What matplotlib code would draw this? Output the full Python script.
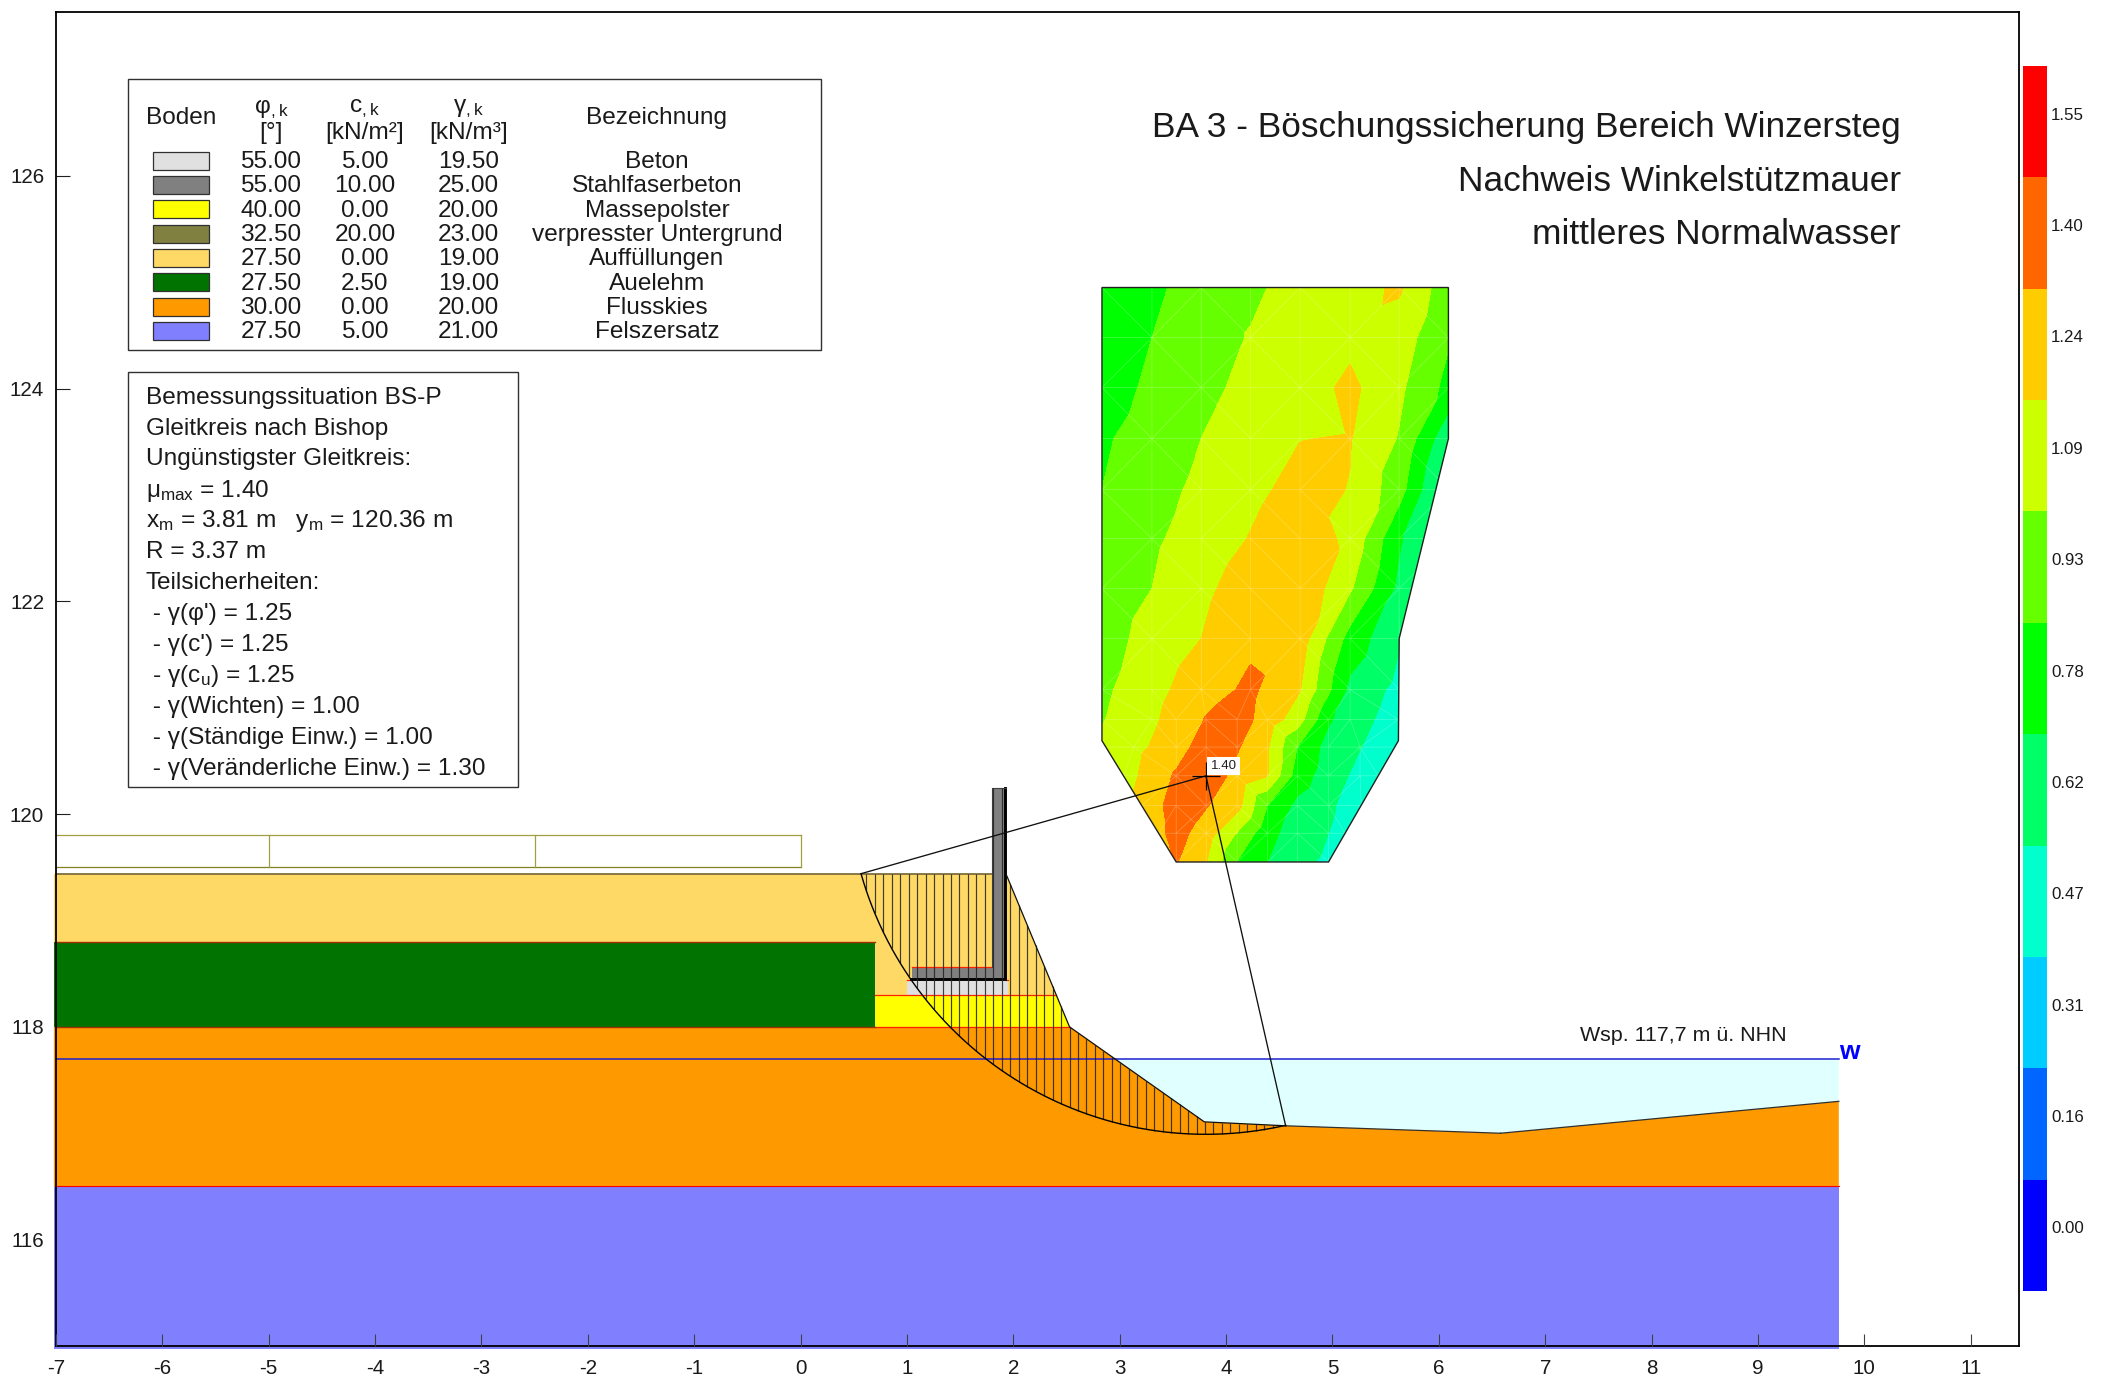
import numpy as np
import matplotlib
matplotlib.use("Agg")
import matplotlib.pyplot as plt
from matplotlib.patches import Polygon, Rectangle
from matplotlib.collections import LineCollection
from matplotlib.colors import ListedColormap, BoundaryNorm
from matplotlib.tri import Triangulation

plt.rcParams['font.family'] = ['Liberation Sans', 'DejaVu Sans']
plt.rcParams['mathtext.default'] = 'regular'
plt.rcParams['axes.unicode_minus'] = False

# ---------- data ----------
x_ticks = list(range(-7, 12))
y_ticks = [116, 118, 120, 122, 124, 126]

title_lines = ["BA 3 - Böschungssicherung Bereich Winzersteg",
               "Nachweis Winkelstützmauer", "mittleres Normalwasser"]

soil_names = ["Beton", "Stahlfaserbeton", "Massepolster", "verpresster Untergrund",
              "Auffüllungen", "Auelehm", "Flusskies", "Felszersatz"]
soil_phi = ["55.00", "55.00", "40.00", "32.50", "27.50", "27.50", "30.00", "27.50"]
soil_c = ["5.00", "10.00", "0.00", "20.00", "0.00", "2.50", "0.00", "5.00"]
soil_gamma = ["19.50", "25.00", "20.00", "23.00", "19.00", "19.00", "20.00", "21.00"]
soil_colors = ["#E0E0E0", "#808080", "#FFFF00", "#808040", "#FFD966", "#007300", "#FF9900", "#8080FF"]

info_lines = ["Bemessungssituation BS-P", "Gleitkreis nach Bishop", "Ungünstigster Gleitkreis:",
              "μ$_{max}$ = 1.40", "x$_{m}$ = 3.81 m   y$_{m}$ = 120.36 m", "R = 3.37 m", "Teilsicherheiten:",
              " - γ(φ') = 1.25", " - γ(c') = 1.25", " - γ(c$_{u}$) = 1.25", " - γ(Wichten) = 1.00",
              " - γ(Ständige Einw.) = 1.00", " - γ(Veränderliche Einw.) = 1.30"]

# section geometry [m, m ü. NHN]
felszersatz = [(-7.02, 114.97), (9.76, 114.97), (9.76, 116.5), (-7.02, 116.5)]
flusskies = [(-7.02, 116.5), (9.76, 116.5), (9.76, 117.30), (6.58, 117.0), (4.56, 117.07),
             (3.795, 117.107), (2.528, 118.0), (-7.02, 118.0)]
auffuellung = [(-7.02, 118.0), (2.528, 118.0), (1.934, 119.43), (1.80, 119.44), (-7.02, 119.44)]
auelehm = [(-7.02, 118.0), (0.70, 118.0), (0.70, 118.80), (-7.02, 118.80)]
massepolster = [(0.70, 118.0), (2.528, 118.0), (2.403, 118.30), (0.70, 118.30)]
beton = [(1.00, 118.30), (1.95, 118.30), (1.95, 118.44), (1.00, 118.44)]
wall = [(1.05, 118.44), (1.934, 118.44), (1.934, 120.25), (1.80, 120.25), (1.80, 118.56), (1.05, 118.56)]
water = [(2.954, 117.70), (9.76, 117.70), (9.76, 117.30), (6.58, 117.0), (4.56, 117.07), (3.795, 117.107)]
water_level = 117.70
load_x = [-7.0, -5.0, -2.5, 0.0]
load_y = [119.50, 119.80]
surface_x = [0.56, 1.80, 1.8001, 1.934, 1.9341, 2.528, 3.795, 4.56]
surface_y = [119.44, 119.44, 120.25, 120.25, 119.43, 118.0, 117.107, 117.07]

xm, ym, radius = 3.81, 120.36, 3.37
slip_end_left = 0.568
slip_end_right = 4.56
slice_x0, slice_dx = 2.528, 0.0796

# colour bar
band_labels = ["0.00", "0.16", "0.31", "0.47", "0.62", "0.78", "0.93", "1.09", "1.24", "1.40", "1.55"]
band_colors = ["#0000FF", "#0066FF", "#00CCFF", "#00FFCC", "#00FF66", "#00FF00",
               "#66FF00", "#CCFF00", "#FFCC00", "#FF6600", "#FF0000"]
band_edges = [-0.08, 0.08, 0.235, 0.39, 0.545, 0.70, 0.855, 1.01, 1.165, 1.32, 1.475, 1.63]

# safety factor field: nodes per row
field_outline = [(2.833, 124.95), (6.09, 124.95), (6.09, 123.53), (5.627, 121.65), (5.62, 120.69),
                 (4.963, 119.55), (3.531, 119.55), (2.833, 120.69)]
coarse8 = [2.833, 3.303, 3.766, 4.229, 4.696, 5.166, 5.627, 6.09]
coarse7 = [2.833, 3.303, 3.766, 4.229, 4.696, 5.166, 5.627]
row_y = [124.95, 124.48, 124.01, 123.53, 123.05, 122.59, 122.12, 121.65, 121.17,
         120.89, 120.63, 120.36, 120.08, 119.95, 119.82, 119.55]
row_x = [coarse8, coarse8, coarse8, coarse8, coarse8, coarse8, coarse8, coarse7, coarse7,
         [2.833, 3.303, 3.531, 3.813, 4.104, 4.389, 4.671, 4.963, 5.166, 5.62],
         [2.833, 3.13, 3.531, 3.813, 4.104, 4.389, 4.671, 4.963, 5.26, 5.62],
         [3.039, 3.531, 3.813, 4.104, 4.389, 4.671, 4.963, 5.26, 5.43],
         [3.202, 3.531, 3.813, 4.104, 4.389, 4.671, 4.963, 5.27],
         [3.67],
         [3.366, 3.531, 3.813, 4.104, 4.389, 4.671, 4.963, 5.119],
         [3.531, 3.813, 4.104, 4.389, 4.671, 4.963]]
row_mu = [[.76, .82, .93, .975, 1.08, 1.115, 1.185, .916],
          [.75, .855, .93, 1.02, 1.08, 1.125, 1.09, .87],
          [.78, .885, .97, 1.05, 1.09, 1.20, 1.04, .81],
          [.835, .92, 1.01, 1.09, 1.162, 1.172, 1.0, .58],
          [.855, .96, 1.04, 1.13, 1.21, 1.16, .92, .44],
          [.90, .985, 1.08, 1.172, 1.26, 1.13, .72, .45],
          [.93, 1.01, 1.13, 1.24, 1.29, 1.03, .66, .40],
          [.95, 1.06, 1.165, 1.29, 1.243, .795, .56],
          [.978, 1.115, 1.25, 1.35, 1.17, .66, .50],
          [1.0, 1.14, 1.22, 1.33, 1.40, 1.25, 1.09, .72, .62, .47],
          [1.05, 1.12, 1.25, 1.40, 1.335, 1.18, .85, .64, .55, .43],
          [1.10, 1.34, 1.40, 1.28, 1.17, .78, .62, .50, .42],
          [1.22, 1.38, 1.33, 1.22, .85, .66, .57, .46],
          [1.35],
          [1.28, 1.38, 1.24, 1.0, .75, .62, .545, .50],
          [1.33, 1.17, .85, .70, .58, .52]]

# ---------- layout (pixels of the 2123 x 1382 canvas) ----------
W, H = 2123, 1382
fig = plt.figure(figsize=(W / 100, H / 100), dpi=100)
def frame(l, t, r, b):
    return [l / W, 1 - b / H, (r - l) / W, (b - t) / H]
def fx(p): return p / W
def fy(p): return 1 - p / H

ax = fig.add_axes(frame(56, 12, 2019, 1346))
ax.set_xlim(-7, 11.454)
ax.set_ylim(115.0, 127.54)
ax.set_xticks(x_ticks)
ax.set_yticks(y_ticks)
ax.tick_params(axis='x', direction='in', length=8.6, width=0.8, color='#404040', labelsize=14.8, pad=9.5, labelcolor='#1a1a1a')
ax.tick_params(axis='y', direction='in', length=10, width=0.8, color='#202020', labelsize=14.8, pad=8.5, labelcolor='#1a1a1a')
for s in ax.spines.values():
    s.set_linewidth(1.3)
    s.set_zorder(20)
ax.xaxis.set_zorder(21)
for t in ax.xaxis.get_major_ticks() + ax.yaxis.get_major_ticks():
    t.tick1line.set_zorder(21)

def layer(points, color, edge=None, z=2, lw=0.8):
    ax.add_patch(Polygon(points, closed=True, facecolor=color, edgecolor=edge if edge else color,
                         lw=lw, zorder=z, clip_on=False))

col = dict(zip(soil_names, soil_colors))
layer(felszersatz, col["Felszersatz"], z=2, lw=0)
layer(flusskies, col["Flusskies"], z=2.1, lw=0)
layer(auffuellung, col["Auffüllungen"], z=2.2, lw=0)
layer(auelehm, col["Auelehm"], z=2.3, lw=0)
layer(massepolster, col["Massepolster"], z=2.4, lw=0)
layer(beton, col["Beton"], z=2.5, lw=0)
layer(water, "#E0FFFF", z=2.05, lw=0)

red = '#FF2000'
ax.plot([-7.02, 9.76], [116.5, 116.5], color='#FF0000', lw=0.8, zorder=3)
ax.plot([0.70, 2.528], [118.0, 118.0], color=red, lw=0.9, zorder=3)
ax.plot([-7.02, 0.70], [118.0, 118.0], color='#A03000', lw=1.0, zorder=3)
ax.plot([-7.02, 0.70], [118.80, 118.80], color='#A03000', lw=1.0, zorder=3)
ax.plot([0.70, 2.403], [118.30, 118.30], color=red, lw=0.9, zorder=3)
ax.plot([-7.02, 1.80], [119.44, 119.44], color='#665a30', lw=1.1, zorder=3)
ax.plot([-7.02, 9.76], [water_level, water_level], color='#2020D0', lw=1.1, zorder=3.2)

# load strips
ax.plot([load_x[0], load_x[-1]], [load_y[1], load_y[1]], color='#A0A040', lw=0.9, zorder=3)
ax.plot([load_x[0], load_x[-1]], [load_y[0], load_y[0]], color='#808020', lw=0.9, zorder=3)
for xv in load_x[1:]:
    ax.plot([xv, xv], load_y, color='#A0A040', lw=0.9, zorder=3)

# wall
layer(wall, col["Stahlfaserbeton"], z=4, lw=0)
ax.plot([1.05, 1.80], [118.56, 118.56], color=red, lw=0.9, zorder=4.2)
ax.plot([1.0, 1.05], [118.44, 118.44], color=red, lw=0.9, zorder=4.2)
ax.plot([1.934, 1.95], [118.44, 118.44], color=red, lw=0.9, zorder=4.2)
ax.plot([1.04, 1.92, 1.92], [118.45, 118.45, 120.25], color='black', lw=2.1, zorder=5, solid_joinstyle='miter')
ax.plot([1.80, 1.80, 1.934], [118.56, 120.25, 120.25], color='#404040', lw=0.8, zorder=5)

# slip circle and slices
arc_x = np.linspace(slip_end_left, slip_end_right, 300)
arc_y = ym - np.sqrt(radius ** 2 - (arc_x - xm) ** 2)
ax.plot(arc_x, arc_y, color='black', lw=1.0, zorder=6)
k = np.arange(-25, 27)
sx = slice_x0 + k * slice_dx
sx = sx[(sx > slip_end_left + 0.02) & (sx < slip_end_right)]
top = np.interp(sx, surface_x, surface_y)
bot = ym - np.sqrt(radius ** 2 - (sx - xm) ** 2)
ax.add_collection(LineCollection([[(a, b), (a, c)] for a, b, c in zip(sx, bot, top)],
                                 colors='#202020', linewidths=0.85, alpha=0.85, zorder=5.5))
ax.plot(surface_x[4:], surface_y[4:], color='#101010', lw=0.9, zorder=6)
ax.plot([6.58, 9.76], [117.0, 117.30], color='#303030', lw=0.9, zorder=6)
ax.plot([4.56, 6.58], [117.07, 117.0], color='#303030', lw=0.9, zorder=6)

# safety factor field
node_x = np.concatenate(row_x)
node_y = np.concatenate([[y] * len(xs) for y, xs in zip(row_y, row_x)])
node_mu = np.concatenate(row_mu)
tri = Triangulation(node_x, node_y)
outline = Polygon(field_outline, closed=True, facecolor='none', edgecolor='#202020', lw=1.0, zorder=9)
ax.add_patch(outline)
cs = ax.tricontourf(tri, node_mu, levels=band_edges, colors=band_colors, zorder=7)
cs.set_clip_path(outline)
for ln in ax.triplot(tri, color='white', lw=0.5, alpha=0.28, zorder=8):
    ln.set_clip_path(outline)

# radii to the critical circle centre
ax.plot([slip_end_left, xm, slip_end_right], [119.44, ym, 117.07], color='#101010', lw=0.95, zorder=10)
ax.plot([xm], [ym], marker='+', ms=20, mew=0.9, color='black', zorder=11)
ax.annotate("1.40", (xm, ym), xytext=(3.5, 7), textcoords='offset points', fontsize=9.6, color='#202020',
            va='center', ha='left', zorder=12,
            bbox=dict(boxstyle='square,pad=0.25', facecolor='white', edgecolor='none'))

ax.text(9.76 - 0.49, 117.70 + 0.22, "Wsp. 117,7 m ü. NHN", fontsize=15.4, color='#1a1a1a', ha='right', va='center', zorder=12)
ax.text(9.76, 117.65, "w", fontsize=19, fontweight='bold', color='#0000FF', ha='left', va='bottom', zorder=12)

# titles
for txt, py in zip(title_lines, [128, 181.5, 235]):
    fig.text(fx(1901), fy(py), txt, fontsize=25.4, color='#1a1a1a', ha='right', va='center', zorder=30)

# legend table
overlay = fig.add_axes([0, 0, 1, 1], facecolor='none')
overlay.set_xlim(0, W)
overlay.set_ylim(H, 0)
overlay.axis('off')
overlay.add_patch(Rectangle((127.5, 79), 693.2, 271, fc='white', ec='#303030', lw=1.0))
overlay.add_patch(Rectangle((127.5, 371.5), 390.5, 415, fc='white', ec='#303030', lw=1.0))
kw = dict(fontsize=17.6, color='#1a1a1a', ha='center', va='center')
overlay.text(181, 117.5, "Boden", **kw)
overlay.text(271, 109, "φ$_{,k}$", **kw)
overlay.text(271, 132.5, "[°]", **kw)
overlay.text(365, 109, "c$_{,k}$", **kw)
overlay.text(365, 132.5, "[kN/m²]", **kw)
overlay.text(468.5, 109, "γ$_{,k}$", **kw)
overlay.text(468.5, 132.5, "[kN/m³]", **kw)
overlay.text(657, 117.5, "Bezeichnung", **kw)
for i, name in enumerate(soil_names):
    py = 160.7 + i * 24.3
    overlay.add_patch(Rectangle((153, py - 9), 56, 18, fc=soil_colors[i], ec='#303030', lw=0.9))
    overlay.text(271, py + 1.3, soil_phi[i], **kw)
    overlay.text(365, py + 1.3, soil_c[i], **kw)
    overlay.text(468.5, py + 1.3, soil_gamma[i], **kw)
    overlay.text(657, py + 1.3, name, **kw)
for line, py in zip(info_lines, [398, 428.7, 459.3, 491.3, 521.3, 552, 582.7, 613.7, 645.3, 676, 707, 738, 768.7]):
    overlay.text(146, py, line, fontsize=17.6, color='#1a1a1a', ha='left', va='center')

# colour bar
cax = fig.add_axes(frame(2023, 66, 2047, 1291))
cmap = ListedColormap(band_colors)
cax.pcolormesh([0, 1], np.arange(len(band_colors) + 1), np.arange(len(band_colors)).reshape(-1, 1),
               cmap=cmap, norm=BoundaryNorm(np.arange(len(band_colors) + 1) - 0.5, cmap.N))
cax.set_ylim(0, len(band_colors))
cax.axis('off')
for i, lab in enumerate(band_labels):
    cax.text(1.17, i + 0.558, lab, transform=cax.get_yaxis_transform(), fontsize=12.2,
             color='#1a1a1a', ha='left', va='center', clip_on=False)

fig.savefig("out.png", dpi=100)
